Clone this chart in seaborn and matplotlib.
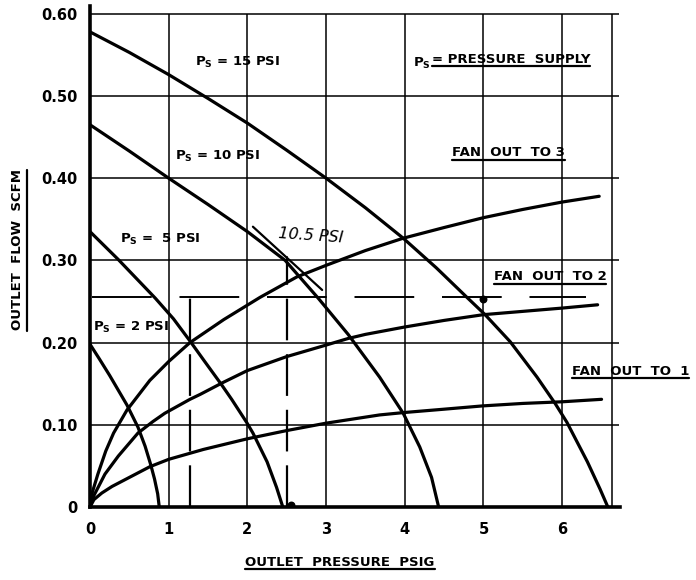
import matplotlib
matplotlib.use("Agg")
import matplotlib.pyplot as plt
import seaborn as sns
import pandas as pd
from matplotlib.lines import Line2D

sns.set_theme(style="white")
plt.rcParams['font.family'] = ['DejaVu Sans']
plt.rcParams['mathtext.fontset'] = 'dejavusans'
plt.rcParams['lines.scale_dashes'] = False
plt.rcParams['lines.solid_joinstyle'] = 'round'
plt.rcParams['lines.solid_capstyle'] = 'round'

# ---------------- data ----------------
x_ticks = [0, 1, 2, 3, 4, 5, 6]
x_tick_labels = ["0", "1", "2", "3", "4", "5", "6"]
y_ticks = [0, 0.1, 0.2, 0.3, 0.4, 0.5, 0.6]
y_tick_labels = ["0", "0.10", "0.20", "0.30", "0.40", "0.50", "0.60"]

ps15_x = [0, 0.5, 1.0, 1.5, 2.0, 2.5, 3.0, 3.5, 3.98, 4.4, 4.79, 5.02, 5.34, 5.68, 5.91, 6.06, 6.32, 6.48, 6.58]
ps15_y = [0.578, 0.553, 0.526, 0.497, 0.467, 0.434, 0.400, 0.364, 0.327, 0.291, 0.255, 0.234, 0.201, 0.158, 0.126, 0.103, 0.055, 0.022, 0.0]

ps10_x = [0, 0.5, 1.0, 1.5, 2.0, 2.48, 2.9, 3.28, 3.68, 3.98, 4.19, 4.34, 4.43]
ps10_y = [0.465, 0.433, 0.400, 0.368, 0.335, 0.300, 0.254, 0.210, 0.158, 0.114, 0.073, 0.036, 0.0]

ps5_x = [0, 0.36, 0.83, 1.06, 1.27, 1.45, 1.67, 1.8, 1.99, 2.07, 2.25, 2.37, 2.45]
ps5_y = [0.335, 0.301, 0.254, 0.229, 0.202, 0.178, 0.149, 0.131, 0.103, 0.090, 0.055, 0.024, 0.0]

ps2_x = [0, 0.12, 0.25, 0.47, 0.61, 0.70, 0.77, 0.82, 0.86, 0.88]
ps2_y = [0.198, 0.180, 0.160, 0.124, 0.097, 0.074, 0.052, 0.034, 0.016, 0.0]

fan3_x = [0, 0.03, 0.1, 0.2, 0.3, 0.47, 0.76, 1.0, 1.27, 1.7, 2.16, 2.63, 3.0, 3.5, 3.98, 4.5, 5.0, 5.5, 6.0, 6.47]
fan3_y = [0, 0.018, 0.040, 0.068, 0.090, 0.118, 0.154, 0.177, 0.200, 0.228, 0.255, 0.280, 0.294, 0.312, 0.327, 0.340, 0.352, 0.362, 0.371, 0.378]

fan2_x = [0, 0.05, 0.19, 0.36, 0.61, 0.8, 0.95, 1.27, 1.40, 1.68, 2.0, 2.5, 3.0, 3.28, 3.5, 4.0, 4.5, 5.0, 5.5, 6.0, 6.45]
fan2_y = [0, 0.014, 0.040, 0.062, 0.090, 0.104, 0.114, 0.131, 0.137, 0.151, 0.166, 0.183, 0.197, 0.205, 0.210, 0.219, 0.227, 0.234, 0.238, 0.242, 0.246]

fan1_x = [0, 0.05, 0.15, 0.28, 0.5, 0.76, 1.0, 1.44, 2.0, 2.5, 3.0, 3.68, 4.0, 4.5, 4.99, 5.5, 6.0, 6.5]
fan1_y = [0, 0.009, 0.017, 0.025, 0.036, 0.049, 0.058, 0.070, 0.083, 0.093, 0.102, 0.112, 0.115, 0.119, 0.123, 0.126, 0.128, 0.131]

ps105_x = [2.07, 2.95]
ps105_y = [0.341, 0.264]

op_flow = 0.255          # dashed horizontal operating line
op_press = [1.27, 2.5]   # dashed vertical lines
op_press_top = [0.255, 0.300]
dots_x = [2.56, 5.0]
dots_y = [0.003, 0.253]

curves = {
    "Ps15": (ps15_x, ps15_y), "Ps10": (ps10_x, ps10_y),
    "Ps5": (ps5_x, ps5_y), "Ps2": (ps2_x, ps2_y),
    "Fan3": (fan3_x, fan3_y), "Fan2": (fan2_x, fan2_y), "Fan1": (fan1_x, fan1_y),
}
df = pd.concat([pd.DataFrame({"curve": k, "x": v[0], "y": v[1]}) for k, v in curves.items()],
               ignore_index=True)

# ---------------- figure ----------------
fig = plt.figure(figsize=(6.96, 5.8), dpi=100)
ax = fig.add_axes([90/696, 1 - 507/580, 6.74*78.7/696, 0.61*822/580])
ax.set_xlim(0, 6.74)
ax.set_ylim(0, 0.61)

# grid
ax.vlines(x_ticks[1:], 0, 0.6, color="black", lw=1.1, zorder=1)
ax.vlines([6.63], 0, 0.6, color="black", lw=1.1, zorder=1)
ax.hlines(y_ticks[1:], 0, 6.72, color="black", lw=1.1, zorder=1)

sns.lineplot(data=df, x="x", y="y", units="curve", estimator=None, sort=False,
             color="black", lw=2.3, ax=ax, zorder=3, legend=False)
sns.lineplot(x=ps105_x, y=ps105_y, color="black", lw=1.6, ax=ax, zorder=3)

# dashed operating lines
ax.plot([0.03, 6.3], [op_flow, op_flow], color="black", lw=1.4, dashes=(43, 20), zorder=2)
for xp, top in zip(op_press, op_press_top):
    ax.plot([xp, xp], [0, top], color="black", lw=1.6, dashes=(30, 10), zorder=2)
ax.scatter(dots_x, dots_y, s=22, color="black", zorder=4)
ax.plot([2.5, 2.5], [0.283, 0.304], color="black", lw=1.4, zorder=4)

# spines
for s in ["top", "right"]:
    ax.spines[s].set_visible(False)
for s in ["left", "bottom"]:
    ax.spines[s].set_color("black")
    ax.spines[s].set_linewidth(2.6)

ax.set_xticks(x_ticks)
ax.set_xticklabels(x_tick_labels, fontweight="bold", fontsize=10.5)
ax.set_yticks(y_ticks)
ax.set_yticklabels(y_tick_labels, fontweight="bold", fontsize=10.5)
ax.tick_params(axis="x", length=0, pad=11, labelcolor="black")
ax.tick_params(axis="y", length=0, pad=9, labelcolor="black")
ax.set_xlabel("")
ax.set_ylabel("")

bold = dict(fontweight="bold", fontsize=9.5, color="black")
ax.text(1.33, 0.541, r"$\mathbf{P_S}$ = 15 PSI", va="center", ha="left", **bold)
ax.text(1.08, 0.426, r"$\mathbf{P_S}$ = 10 PSI", va="center", ha="left", **bold)
ax.text(0.38, 0.325, r"$\mathbf{P_S}$ =  5 PSI", va="center", ha="left", **bold)
ax.text(0.04, 0.218, r"$\mathbf{P_S}$ = 2 PSI", va="center", ha="left", **bold)
ax.text(4.1, 0.539, r"$\mathbf{P_S}$", va="center", ha="left", **bold)
t_ps = ax.text(4.34, 0.545, "= PRESSURE  SUPPLY", va="center", ha="left", **bold)
t_f3 = ax.text(4.6, 0.431, "FAN  OUT  TO 3", va="center", ha="left", **bold)
t_f2 = ax.text(5.13, 0.280, "FAN  OUT  TO 2", va="center", ha="left", **bold)
t_f1 = ax.text(6.12, 0.165, "FAN  OUT  TO  1", va="center", ha="left", **bold)
ax.text(2.38, 0.330, "10.5 PSI", va="center", ha="left", fontsize=11.5,
        style="italic", rotation=-4, color="black")

t_xl = fig.text(340/696, 1 - 562/580, "OUTLET  PRESSURE  PSIG", ha="center", va="center", **bold)
t_yl = fig.text(18/696, 1 - 250/580, "OUTLET  FLOW  SCFM", ha="center", va="center",
                rotation=90, **bold)

fig.canvas.draw()
renderer = fig.canvas.get_renderer()
inv = fig.transFigure.inverted()

def underline(t, gap=2.5, vertical=False):
    bb = t.get_window_extent(renderer)
    if vertical:
        xx = bb.x1 + gap
        p0 = inv.transform((xx, bb.y0))
        p1 = inv.transform((xx, bb.y1))
    else:
        yy = bb.y0 - gap + 2
        p0 = inv.transform((bb.x0, yy))
        p1 = inv.transform((bb.x1, yy))
    fig.add_artist(Line2D([p0[0], p1[0]], [p0[1], p1[1]], transform=fig.transFigure,
                          color="black", lw=1.6))

for t in [t_ps, t_f3, t_f2, t_f1, t_xl]:
    underline(t)
underline(t_yl, vertical=True)

fig.savefig("out.png", dpi=100, facecolor="white")
